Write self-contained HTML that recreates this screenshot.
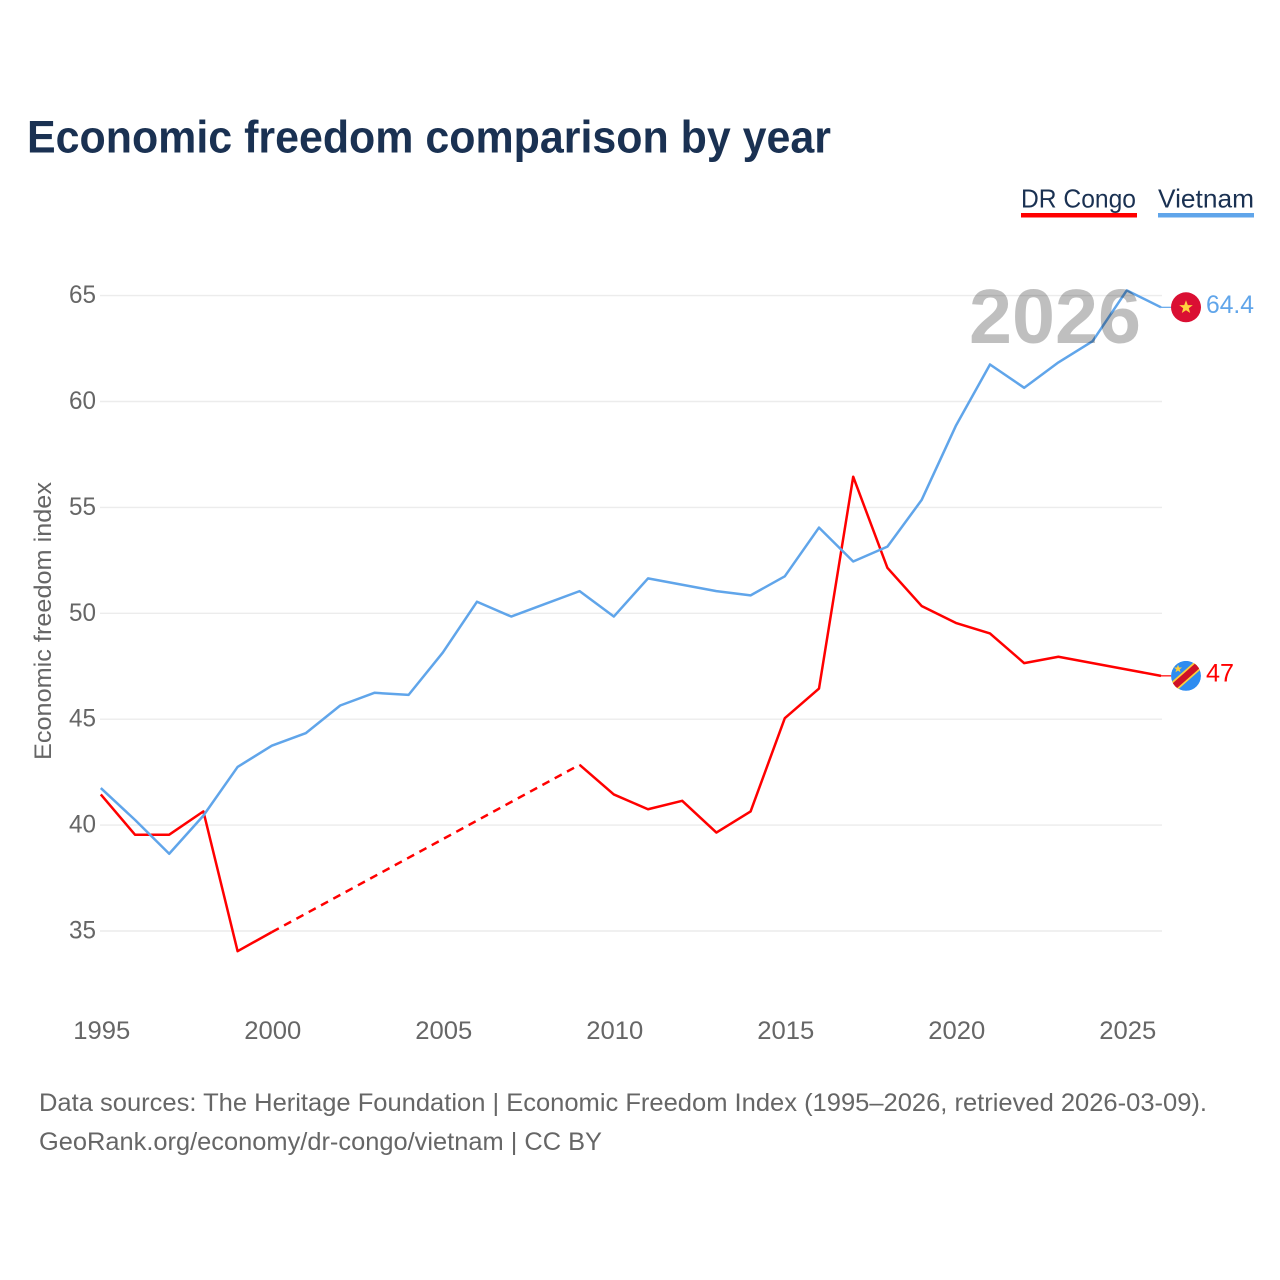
<!DOCTYPE html>
<html lang="en">
<head>
<meta charset="utf-8">
<title>Economic freedom comparison by year</title>
<style>
html,body{margin:0;padding:0;background:#fff;}
svg{display:block;}
text{font-family:"Liberation Sans",sans-serif;}
</style>
</head>
<body>
<svg id="chart" width="1280" height="1280" viewBox="0 0 1280 1280" xmlns="http://www.w3.org/2000/svg">
  <rect width="1280" height="1280" fill="#fff"/>
  <text x="27" y="152.5" font-size="45" font-weight="700" fill="#1a3152" textLength="804" lengthAdjust="spacingAndGlyphs">Economic freedom comparison by year</text>

  <g>
    <text x="1021" y="207.5" font-size="26" fill="#1a3152" textLength="115" lengthAdjust="spacingAndGlyphs">DR Congo</text>
    <rect x="1021" y="213" width="116" height="4.5" fill="#ff0000"/>
  </g>
  <g>
    <text x="1158" y="207.5" font-size="26" fill="#1a3152" textLength="96" lengthAdjust="spacingAndGlyphs">Vietnam</text>
    <rect x="1158" y="213" width="96" height="4.5" fill="#60a5ea"/>
  </g>

  <g id="grid"></g>
  <g id="y-ticks"></g>
  <g id="x-ticks"></g>
  <text transform="translate(51,621) rotate(-90)" text-anchor="middle" font-size="24" fill="#666" textLength="278" lengthAdjust="spacingAndGlyphs">Economic freedom index</text>

  <g id="series"></g>
  <text id="year-label" x="969" y="343" font-size="77" font-weight="700" fill="#000" fill-opacity="0.25" textLength="172" lengthAdjust="spacingAndGlyphs">2026</text>

  <g id="end-vietnam">
    <line id="stub-vn" stroke="#60a5ea" stroke-width="1.2"/>
    <g id="flag-vn">
      <circle r="15" fill="#da0f33"/>
      <polygon points="0,-7 1.8,-2.2 6.8,-2.2 2.8,0.9 4.2,5.7 0,2.9 -4.2,5.7 -2.8,0.9 -6.8,-2.2 -1.8,-2.2" fill="#ffd23f"/>
    </g>
    <text id="label-vn" font-size="25" fill="#60a5ea" textLength="48" lengthAdjust="spacingAndGlyphs"></text>
  </g>
  <g id="end-congo">
    <line id="stub-cd" stroke="#ff0000" stroke-width="1.2"/>
    <g id="flag-cd">
      <clipPath id="flag-clip"><circle r="15"/></clipPath>
      <g clip-path="url(#flag-clip)">
        <circle r="15" fill="#2e8cf0"/>
        <line x1="-17" y1="15" x2="17" y2="-15" stroke="#fbcf3c" stroke-width="10"/>
        <line x1="-17" y1="15" x2="17" y2="-15" stroke="#cf1226" stroke-width="6.5"/>
        <polygon transform="translate(-8,-7) scale(.6)" points="0,-7 1.8,-2.2 6.8,-2.2 2.8,0.9 4.2,5.7 0,2.9 -4.2,5.7 -2.8,0.9 -6.8,-2.2 -1.8,-2.2" fill="#fbcf3c"/>
      </g>
    </g>
    <text id="label-cd" font-size="25" fill="#ff0000" textLength="28" lengthAdjust="spacingAndGlyphs"></text>
  </g>

  <text x="39" y="1111" font-size="25" fill="#666" textLength="1168" lengthAdjust="spacingAndGlyphs">Data sources: The Heritage Foundation | Economic Freedom Index (1995–2026, retrieved 2026-03-09).</text>
  <text x="39" y="1150" font-size="25" fill="#666" textLength="563" lengthAdjust="spacingAndGlyphs">GeoRank.org/economy/dr-congo/vietnam | CC BY</text>
</svg>
<script>
const years = [1995,1996,1997,1998,1999,2000,2001,2002,2003,2004,2005,2006,2007,2008,2009,2010,2011,2012,2013,2014,2015,2016,2017,2018,2019,2020,2021,2022,2023,2024,2025,2026];
const vietnamValues = [41.7,40.2,38.6,40.4,42.7,43.7,44.3,45.6,46.2,46.1,48.1,50.5,49.8,50.4,51.0,49.8,51.6,51.3,51.0,50.8,51.7,54.0,52.4,53.1,55.3,58.8,61.7,60.6,61.8,62.8,65.2,64.4];
const congoValues = [41.4,39.5,39.5,40.6,34.0,34.9,null,null,null,null,null,null,null,null,42.8,41.4,40.7,41.1,39.6,40.6,45.0,46.4,56.4,52.1,50.3,49.5,49.0,47.6,47.9,47.6,47.3,47.0];
const yTickValues = [35,40,45,50,55,60,65];
const xTickValues = [1995,2000,2005,2010,2015,2020,2025];

const SVG_NS = 'http://www.w3.org/2000/svg';
function xScale(year){ return 100.8 + (year - 1995) * 34.2; }
function yScale(value){ return 930 - (value - 35) * 21.18; }
function gridY(value){ return yScale(value) + 1; }
function make(tag, attrs, parent){
  const el = document.createElementNS(SVG_NS, tag);
  for (const k in attrs) el.setAttribute(k, attrs[k]);
  parent.appendChild(el);
  return el;
}

const grid = document.getElementById('grid');
const yTicksGroup = document.getElementById('y-ticks');
yTickValues.forEach(function(v){
  const gl = make('line', {x1:100, x2:1162, y1:gridY(v), y2:gridY(v), stroke:'#ececec', 'stroke-width':1.4}, grid);
  
  
  const t = make('text', {x:96, y:gridY(v)+7.5, 'text-anchor':'end', 'font-size':25, fill:'#666', textLength:27, lengthAdjust:'spacingAndGlyphs'}, yTicksGroup);
  
  
  t.textContent = v;
});
const xTicksGroup = document.getElementById('x-ticks');
xTickValues.forEach(function(y){
  const t = make('text', {x:xScale(y)+1, y:1039, 'text-anchor':'middle', 'font-size':25, fill:'#666', textLength:57, lengthAdjust:'spacingAndGlyphs'}, xTicksGroup);
  
  
  t.textContent = y;
});

const seriesGroup = document.getElementById('series');
function drawSeries(values, color, name){
  let segment = [];
  let lastPoint = null;
  function flush(){
    if (segment.length > 1) {
      const p = make('polyline', {points:segment.join(' '), fill:'none', stroke:color, 'stroke-width':2.5, 'stroke-linejoin':'round'}, seriesGroup);
      
      
    }
    segment = [];
  }
  values.forEach(function(v, i){
    if (v === null) { flush(); return; }
    const pt = xScale(years[i]) + ',' + yScale(v);
    if (segment.length === 0 && lastPoint && i > lastPoint.i + 1) {
      const d = make('line', {x1:xScale(years[lastPoint.i]), y1:yScale(lastPoint.v), x2:xScale(years[i]), y2:yScale(v), stroke:color, 'stroke-width':2.5, 'stroke-dasharray':'8 6'}, seriesGroup);
      
      
    }
    segment.push(pt);
    lastPoint = {i:i, v:v};
  });
  flush();
}
drawSeries(congoValues, '#ff0000', 'dr-congo');
drawSeries(vietnamValues, '#60a5ea', 'vietnam');

function placeEnd(values, stubId, flagId, labelId){
  const last = values[values.length - 1];
  const lx = xScale(years[years.length - 1]);
  const ly = yScale(last);
  const stub = document.getElementById(stubId);
  stub.setAttribute('x1', lx); stub.setAttribute('x2', lx + 10);
  stub.setAttribute('y1', ly); stub.setAttribute('y2', ly);
  document.getElementById(flagId).setAttribute('transform', 'translate(1186,' + ly + ')');
  const label = document.getElementById(labelId);
  label.setAttribute('x', 1206);
  label.setAttribute('y', ly + 5.5);
  label.textContent = last;
}
placeEnd(vietnamValues, 'stub-vn', 'flag-vn', 'label-vn');
placeEnd(congoValues, 'stub-cd', 'flag-cd', 'label-cd');
</script>
</body>
</html>
